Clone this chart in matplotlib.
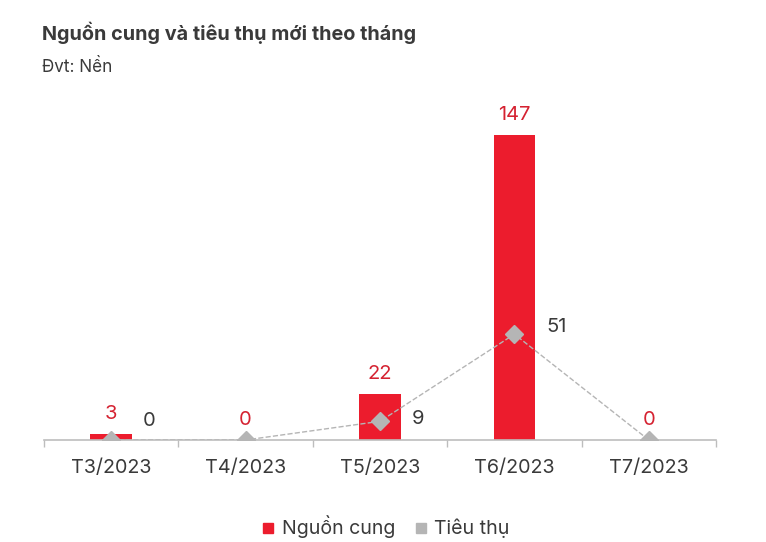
import matplotlib.pyplot as plt
from matplotlib.lines import Line2D

plt.rcParams['font.family'] = ['Inter', 'DejaVu Sans']

thang = ["T3/2023", "T4/2023", "T5/2023", "T6/2023", "T7/2023"]
nguon_cung = [3, 0, 22, 147, 0]
tieu_thu = [0, 0, 9, 51, 0]
# nhãn tiêu thụ hiển thị (ẩn những nhãn bị trùng)
hien_nhan_tt = [True, False, True, True, False]
# dịch nhãn tiêu thụ lên một chút (points)
dich_len = [14, 0, 2, 5, 0]

do = '#EC1C2D'
xam = '#B5B5B5'
chu = '#3A3A3A'

fig = plt.figure(figsize=(7.66, 5.42), dpi=100)
ax = fig.add_axes([44 / 766, 102 / 542, 672 / 766, 332 / 542])

x = list(range(len(thang)))
ax.bar(x, nguon_cung, width=0.31, color=do, zorder=2)
ax.plot(x, tieu_thu, color=xam, linestyle='--', linewidth=1, marker='D',
        markersize=9, markerfacecolor=xam, markeredgecolor=xam, zorder=3)

for i, v in enumerate(nguon_cung):
    ax.annotate(str(v), (i, v), xytext=(0, 8), textcoords='offset points',
                ha='center', va='bottom', color='#D52231', fontsize=14.5)
for i, v in enumerate(tieu_thu):
    if hien_nhan_tt[i]:
        ax.annotate(str(v), (i, v), xytext=(23, dich_len[i]), textcoords='offset points',
                    ha='left', va='center', color=chu, fontsize=14.5)

ax.set_xlim(-0.5, len(thang) - 0.5)
ax.set_ylim(0, 160)
ax.set_yticks([])
for s in ['top', 'right', 'left']:
    ax.spines[s].set_visible(False)
ax.spines['bottom'].set_color('#BDBDBD')
ax.spines['bottom'].set_linewidth(1.2)

ax.set_xticks([i - 0.5 for i in range(len(thang) + 1)], minor=False)
ax.set_xticklabels([])
ax.tick_params(axis='x', length=5, color='#BDBDBD', width=1)
ax.set_xticks(x, minor=True)
ax.set_xticklabels(thang, minor=True)
ax.tick_params(axis='x', which='minor', length=0, pad=14, labelsize=14.2, labelcolor=chu)

fig.text(42 / 766, 1 - 33 / 542, "Nguồn cung và tiêu thụ mới theo tháng",
         fontsize=14.3, fontweight='bold', color=chu, va='center')
fig.text(42 / 766, 1 - 67 / 542, "Đvt: Nền", fontsize=12.3, color=chu, va='center')

handles = [Line2D([], [], marker='s', linestyle='', color=do, markersize=7),
           Line2D([], [], marker='s', linestyle='', color=xam, markersize=7)]
fig.legend(handles, ["Nguồn cung", "Tiêu thụ"], loc='center', ncol=2,
           bbox_to_anchor=(384 / 766, 1 - 527 / 542), frameon=False,
           fontsize=14.1, labelcolor=chu, handlelength=1.0, handletextpad=0.2,
           columnspacing=0.8)

fig.savefig('out.png', dpi=100)
